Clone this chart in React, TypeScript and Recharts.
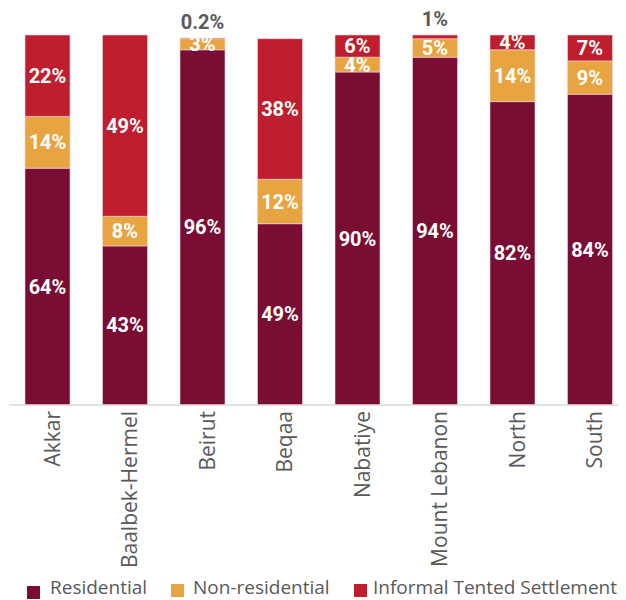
import { BarChart, Bar, XAxis, YAxis, LabelList } from 'recharts';

const categories = ['Akkar', 'Baalbek-Hermel', 'Beirut', 'Beqaa', 'Nabatiye', 'Mount Lebanon', 'North', 'South'];
const residential = [64, 43, 96, 49, 90, 94, 82, 84];
const nonResidential = [14, 8, 3, 12, 4, 5, 14, 9];
const informal = [22, 49, 0.2, 38, 6, 1, 4, 7];

const data = categories.map((name, i) => ({
  name,
  residential: residential[i],
  nonResidential: nonResidential[i],
  informal: informal[i],
}));

const series = [
  { key: 'residential', label: 'Residential', color: '#7a0d34' },
  { key: 'nonResidential', label: 'Non-residential', color: '#e8a440' },
  { key: 'informal', label: 'Informal Tented Settlement', color: '#be1e2d' },
];

// legend item placement (px from the wrapper's left / top)
const legendLayout = [
  { marker: 19, text: 42, top: 578, textTop: 570 },
  { marker: 163, text: 185, top: 576, textTop: 570 },
  { marker: 346, text: 365, top: 576, textTop: 570 },
];

const labelFont = "Roboto, 'DejaVu Sans Condensed', sans-serif";
const axisFont = "'Open Sans', 'Noto Sans', sans-serif";
const grey = '#595959';

const fmt = (v: number) => `${v}%`;

// values too thin to hold a label get it printed above the bar in grey
const SegmentLabel = (props: any) => {
  const { x, y, width, height, value } = props;
  if (value == null) return null;
  const cx = x + width / 2;
  if (value < 2) {
    return (
      <text x={cx} y={y - 16} textAnchor="middle" dominantBaseline="central"
        fill={grey} fontFamily={labelFont} fontWeight="bold" fontSize={20}>
        {fmt(value)}
      </text>
    );
  }
  return (
    <text x={cx} y={y + height / 2} textAnchor="middle" dominantBaseline="central"
      fill="#ffffff" fontFamily={labelFont} fontWeight="bold" fontSize={20}>
      {fmt(value)}
    </text>
  );
};

const CategoryTick = (props: any) => {
  const { x, y, payload } = props;
  return (
    <text transform={`translate(${x + 12},${y - 2}) rotate(-90)`} textAnchor="end"
      fill={grey} fontFamily={axisFont} fontSize={21}>
      {payload.value}
    </text>
  );
};

export default function App() {
  return (
    <div style={{ position: 'relative', width: 618, height: 592, overflow: 'hidden' }}>
      <BarChart width={621} height={592} data={data}
        margin={{ top: 27, right: 0, left: 1, bottom: 35 }}>
        <XAxis dataKey="name" interval={0} height={160} tickLine={false}
          axisLine={{ stroke: '#d9d9d9', strokeWidth: 1.5 }} tick={<CategoryTick />} />
        <YAxis hide domain={[0, 100]} />
        {series.map((s) => (
          <Bar key={s.key} dataKey={s.key} stackId="a" fill={s.color} barSize={45}
            stroke="#f3d6de" strokeWidth={0.6} isAnimationActive={false}>
            <LabelList dataKey={s.key} content={<SegmentLabel />} />
          </Bar>
        ))}
      </BarChart>
      {series.map((s, i) => (
        <div key={s.key}>
          <div style={{ position: 'absolute', left: legendLayout[i].marker, top: legendLayout[i].top,
            width: 13, height: 13, background: s.color }} />
          <div style={{ position: 'absolute', left: legendLayout[i].text, top: legendLayout[i].textTop,
            fontFamily: axisFont, fontSize: 19, lineHeight: 1, color: grey, whiteSpace: 'nowrap' }}>
            {s.label}
          </div>
        </div>
      ))}
    </div>
  );
}
